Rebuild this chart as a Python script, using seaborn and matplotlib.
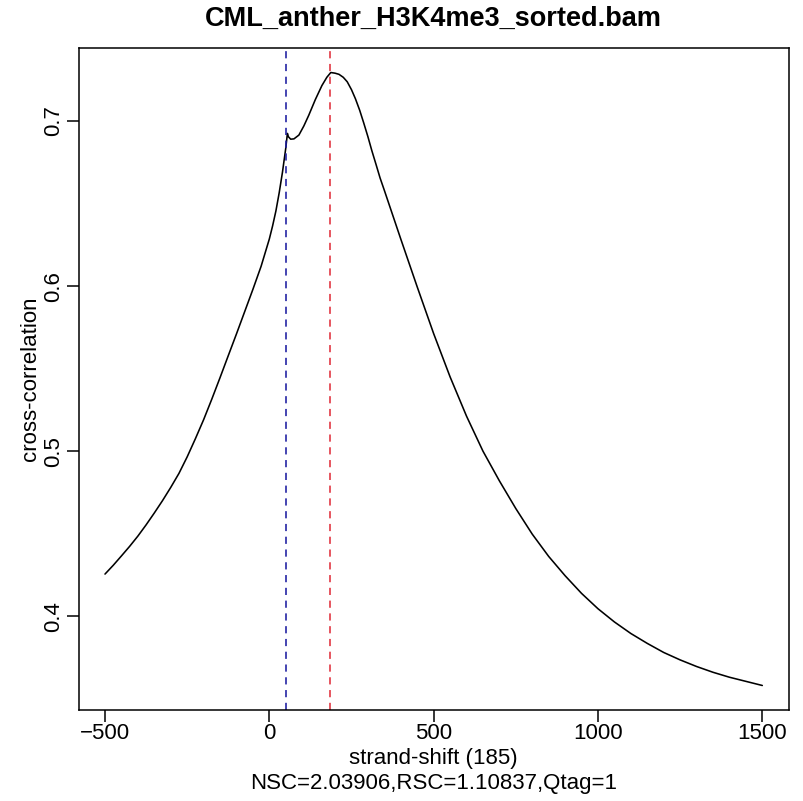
import matplotlib
matplotlib.use("Agg")
import matplotlib.pyplot as plt
import seaborn as sns
import pandas as pd

# ---- data ----
shift = [-500, -475, -450, -425, -400, -375, -350, -325, -300, -275, -250, -225, -200,
         -175, -150, -125, -100, -75, -50, -25, 0, 10, 20, 30,
         40, 50, 55, 58, 65, 75, 90, 105, 120, 140, 160, 175, 187, 200, 212, 225, 237,
         250, 262, 275, 287, 300, 312, 325, 337, 350, 400, 450, 500, 550, 600, 650,
         700, 750, 800, 850, 900, 950, 1000, 1050, 1100, 1150, 1200, 1250, 1300, 1350,
         1400, 1450, 1500]
cross_corr = [0.4255, 0.4308, 0.4365, 0.4423, 0.4485, 0.4553, 0.4625, 0.4700, 0.4780,
              0.4865, 0.4965, 0.5075, 0.5190, 0.5315, 0.5445, 0.5578, 0.5710, 0.5845,
              0.5980, 0.6120, 0.6285, 0.6365, 0.6455, 0.6565, 0.6690, 0.6835, 0.6925,
              0.6905, 0.6890, 0.6892, 0.6915, 0.6970, 0.7035, 0.7130, 0.7215, 0.7265,
              0.7294, 0.7290, 0.7283, 0.7265, 0.7238, 0.7190, 0.7135, 0.7065, 0.6990,
              0.6905, 0.6820, 0.6735, 0.6655, 0.6580, 0.6285, 0.5995, 0.5712, 0.5450,
              0.5212, 0.5000, 0.4820, 0.4652, 0.4497, 0.4362, 0.4245, 0.4138, 0.4045,
              0.3965, 0.3895, 0.3835, 0.3780, 0.3735, 0.3695, 0.3660, 0.3630, 0.3605,
              0.3580]
read_length = 52
strand_shift = 185
x_ticks = [-500, 0, 500, 1000, 1500]
y_ticks = [0.4, 0.5, 0.6, 0.7]
title = "CML_anther_H3K4me3_sorted.bam"
xlabel = "strand-shift (185)\nNSC=2.03906,RSC=1.10837,Qtag=1"
ylabel = "cross-correlation"

sns.set_style("ticks")
plt.rcParams["font.family"] = ["Liberation Sans", "DejaVu Sans"]
plt.rcParams["text.color"] = "black"
plt.rcParams["axes.labelcolor"] = "black"
plt.rcParams["xtick.color"] = "black"
plt.rcParams["ytick.color"] = "black"

W, H = 804, 801
fig = plt.figure(figsize=(W / 100, H / 100), dpi=100)
L, R, T, B = 78.7, 788.6, 48, 710
ax = fig.add_axes([L / W, 1 - B / H, (R - L) / W, (B - T) / H])

df = pd.DataFrame({"shift": shift, "cc": cross_corr})
sns.lineplot(data=df, x="shift", y="cc", ax=ax, color="black", linewidth=1.15,
             sort=False, estimator=None)
ax.margins(x=0.04, y=0.04)

ax.axvline(read_length, color="#1c1ca0", linestyle=(0, (4.5, 3.5)), linewidth=1.15)
ax.axvline(strand_shift, color="#e0303c", linestyle=(0, (4.5, 3.5)), linewidth=1.15)

ax.set_xticks(x_ticks)
ax.set_yticks(y_ticks)
ax.set_yticklabels([f"{v:.1f}" for v in y_ticks])
ax.tick_params(axis="both", direction="out", length=8.6, width=1.1, labelsize=16,
               color="black", labelcolor="black")
ax.tick_params(axis="x", pad=1)
ax.tick_params(axis="y", pad=2, labelrotation=90)
for lab in ax.get_yticklabels():
    lab.set_va("center")
for s in ax.spines.values():
    s.set_visible(True)
    s.set_linewidth(1.1)
    s.set_color("black")

ax.set_xlabel("")
ax.set_ylabel("")
fig.text((L + R) / 2 / W, 1 - 19 / H, title, ha="center", va="center",
         fontsize=19.5, fontweight="bold", color="black")
fig.text((L + R) / 2 / W, 1 - 771 / H, xlabel, ha="center", va="center",
         fontsize=16, linespacing=1.2, color="black")
fig.text(31 / W, 1 - (T + B) / 2 / H, ylabel, ha="center", va="center",
         fontsize=16, rotation=90, color="black")

fig.savefig("out.png", dpi=100, facecolor="white")
